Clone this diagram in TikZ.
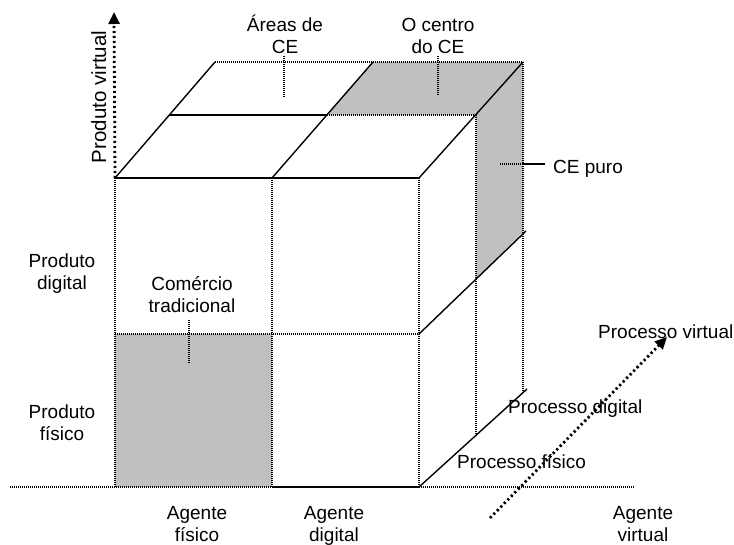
\documentclass[tikz,border=0pt]{standalone}
\usepackage{fontspec}
\setmainfont{Liberation Sans}
\usetikzlibrary{arrows.meta}
\definecolor{cubegray}{HTML}{C0C0C0}
\begin{document}
\begin{tikzpicture}[x=1pt,y=-1pt,
  solidline/.style={line width=1.4pt},
  dotline/.style={line width=1.2pt, dash pattern=on 1.2pt off 0.8pt},
  bigdots/.style={line width=2.8pt, dash pattern=on 2.2pt off 2.8pt},
  lbl/.style={font=\fontsize{19}{22}\selectfont, inner sep=0pt, anchor=base, align=center},
  lbll/.style={font=\fontsize{19}{22}\selectfont, inner sep=0pt, anchor=base west}]
\path[use as bounding box] (0,0) rectangle (734,544);
% corners
\coordinate (F1) at (115,178); \coordinate (F2) at (272,178); \coordinate (F3) at (419,178);
\coordinate (B1) at (215,62); \coordinate (B2) at (373,62); \coordinate (B3) at (523,62);
\coordinate (M1) at (169,115); \coordinate (M2) at (327,115); \coordinate (M3) at (476,115);
\coordinate (L1) at (115,334); \coordinate (L2) at (272,334); \coordinate (L3) at (419,334);
\coordinate (G1) at (115,487); \coordinate (G2) at (272,487); \coordinate (G3) at (419,487);
\coordinate (RM) at (526,231); \coordinate (RB) at (527,389);
\coordinate (V1) at (476,437); \coordinate (V2) at (523,393);
\coordinate (H0) at (10,487); \coordinate (H4) at (634,487);
% gray fills
\fill[cubegray] (B2) -- (B3) -- (M3) -- (M2) -- cycle;
\fill[cubegray] (M3) -- (B3) -- (523,232) -- (476,279) -- cycle;
\fill[cubegray] (L1) -- (L2) -- (G2) -- (G1) -- cycle;
% dotted lines
\draw[dotline] (F1) -- (G1);
\draw[dotline] (F2) -- (G2);
\draw[dotline] (F3) -- (G3);
\draw[dotline] (M3) -- (V1);
\draw[dotline] (B3) -- (V2);
\draw[dotline] (L1) -- (L3);
\draw[dotline] (B1) -- (B3);
\draw[dotline] (M2) -- (M3);
\draw[dotline] (H0) -- (G2);
\draw[dotline] (G3) -- (H4);
% solid lines
\draw[solidline] (F1) -- (F3);
\draw[solidline] (B1) -- (F1);
\draw[solidline] (B2) -- (F2);
\draw[solidline] (B3) -- (F3);
\draw[solidline] (M1) -- (M2);
\draw[solidline] (L3) -- (RM);
\draw[solidline] (G3) -- (RB);
\draw[solidline] (G2) -- (G3);
% labels (base anchor = baseline of last line)
\node[lbl] (areas) at (285,53) {Áreas de\\CE};
\node[lbl] (centro) at (438,53) {O centro\\do CE};
\node[lbll] (puro) at (553,173) {CE puro};
\node[lbl] (pdig) at (62,289) {Produto\\digital};
\node[lbl] (pfis) at (62,440) {Produto\\físico};
\node[lbl] (comercio) at (192,312) {Comércio\\tradicional};
\node[lbl] (afis) at (197,541) {Agente\\físico};
\node[lbl] (adig) at (334,541) {Agente\\digital};
\node[lbl] (avir) at (643,541) {Agente\\virtual};
\node[lbll] (prvir) at (598,338) {Processo virtual};
\node[lbll] (prdig) at (508,413) {Processo digital};
\node[lbll] (prfis) at (457,468) {Processo físico};
\node[font=\fontsize{20.5}{24}\selectfont, inner sep=0pt, rotate=90, anchor=base] (pvir) at (106,97) {Produto virtual};
% leaders
\coordinate (a1) at (284,97); \coordinate (c1) at (438,95);
\coordinate (t0) at (189,320); \coordinate (t1) at (189,363);
\coordinate (p0) at (500,164); \coordinate (p1) at (522,164); \coordinate (p2) at (545,164);
\draw[dotline] (284,56) -- (a1);
\draw[dotline] (438,56) -- (c1);
\draw[dotline] (t0) -- (t1);
\draw[dotline] (p0) -- (p1);
\draw[line width=1.2pt] (p1) -- (p2);
% axes arrows
\coordinate (pa) at (114,12); \coordinate (va0) at (490,518); \coordinate (va1) at (667,337);
\draw[bigdots, -{Triangle[length=12pt,width=11pt]}] (F1) -- (pa);
\draw[bigdots, -{Triangle[length=12pt,width=11pt]}] (va0) -- (va1);
\end{tikzpicture}
\end{document}
